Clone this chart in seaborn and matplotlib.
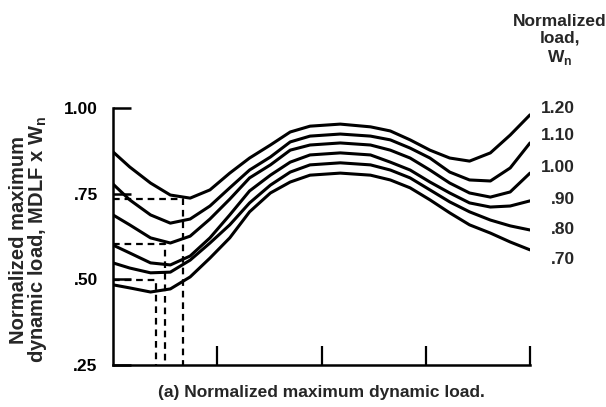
import numpy as np
import pandas as pd
import matplotlib
matplotlib.use("Agg")
import matplotlib.pyplot as plt
import seaborn as sns

sns.set_theme(style="white")
plt.rcParams['font.family'] = ['Liberation Sans', 'DejaVu Sans']
plt.rcParams['mathtext.fontset'] = 'custom'
plt.rcParams['mathtext.rm'] = 'Liberation Sans:bold'
plt.rcParams['font.weight'] = 'bold'

# ---- data ----
x_pos = [0.00, 0.16, 0.36, 0.55, 0.74, 0.93, 1.12, 1.31, 1.51, 1.70, 1.89,
         2.18, 2.47, 2.66, 2.85, 3.04, 3.23, 3.42, 3.62, 3.81, 4.00]

load_labels = ['1.20', '1.10', '1.00', '.90', '.80', '.70']

curve_120 = [0.872, 0.828, 0.781, 0.746, 0.737, 0.761, 0.810, 0.854, 0.892, 0.930, 0.947,
             0.953, 0.945, 0.933, 0.907, 0.877, 0.854, 0.845, 0.869, 0.921, 0.980]
curve_110 = [0.778, 0.732, 0.688, 0.664, 0.676, 0.714, 0.767, 0.819, 0.857, 0.901, 0.918,
             0.924, 0.918, 0.907, 0.883, 0.854, 0.813, 0.790, 0.787, 0.825, 0.898]
curve_100 = [0.688, 0.659, 0.621, 0.606, 0.626, 0.676, 0.734, 0.796, 0.834, 0.877, 0.892,
             0.898, 0.892, 0.877, 0.854, 0.819, 0.781, 0.752, 0.740, 0.755, 0.810]
curve_090 = [0.600, 0.577, 0.548, 0.542, 0.568, 0.621, 0.688, 0.758, 0.804, 0.842, 0.863,
             0.869, 0.863, 0.842, 0.819, 0.784, 0.752, 0.723, 0.711, 0.714, 0.729]
curve_080 = [0.548, 0.533, 0.519, 0.521, 0.556, 0.606, 0.659, 0.723, 0.775, 0.813, 0.834,
             0.840, 0.834, 0.819, 0.796, 0.761, 0.726, 0.697, 0.673, 0.656, 0.644]
curve_070 = [0.484, 0.475, 0.463, 0.472, 0.507, 0.562, 0.621, 0.697, 0.752, 0.784, 0.804,
             0.810, 0.804, 0.790, 0.767, 0.732, 0.694, 0.659, 0.635, 0.609, 0.586]

# dashed read-off lines
dash_y = [0.733, 0.603, 0.498]
dash_x = [0.67, 0.50, 0.41]

# right-side label positions (y in data units)
label_y = [1.000, 0.921, 0.825, 0.734, 0.644, 0.559]

y_ticks = [1.00, 0.75, 0.50, 0.25]
y_tick_labels = ['1.00', '.75', '.50', '.25']
x_ticks = [1, 2, 3, 4]

curves = [curve_120, curve_110, curve_100, curve_090, curve_080, curve_070]
df = pd.concat([pd.DataFrame({'x': x_pos, 'y': c, 'load': lab})
                for c, lab in zip(curves, load_labels)], ignore_index=True)

# ---- figure ----
fig = plt.figure(figsize=(6.06, 4.07), dpi=100)
ax = fig.add_axes([113/606, 1-365/407, (530-113)/606, (365-108)/407])

sns.lineplot(data=df, x='x', y='y', units='load', estimator=None, sort=False,
             color='black', lw=2.2, ax=ax, legend=False,
             solid_joinstyle='round', solid_capstyle='round')

for xx, yy in zip(dash_x, dash_y):
    ax.plot([0, xx, xx], [yy, yy, 0.25], color='black', lw=1.6,
            ls=(0, (3.0, 2.2)), solid_capstyle='butt')

ax.set_xlim(0, 4)
ax.set_ylim(0.25, 1.00)
ax.set_xticks(x_ticks)
ax.set_xticklabels([''] * len(x_ticks))
ax.set_yticks(y_ticks)
ax.set_yticklabels(y_tick_labels, fontsize=12.5, fontweight='bold')
ax.tick_params(axis='y', left=True, direction='in', length=13, width=1.8, pad=11,
               colors='black')
ax.tick_params(axis='x', bottom=True, direction='in', length=14, width=1.6,
               colors='black')
ax.set_xlabel('')
ax.set_ylabel('')

for s in ['top', 'right']:
    ax.spines[s].set_visible(False)
for s in ['left', 'bottom']:
    ax.spines[s].set_color('black')
    ax.spines[s].set_linewidth(1.8)

for lab, yy in zip(load_labels, label_y):
    ax.text(4.43, yy, lab, ha='right', va='center', fontsize=12.5, clip_on=False,
            fontweight='bold')

fig.text(560/606, 1-14/407, 'Normalized\nload,\nW$_\\mathregular{n}$', ha='center', va='top',
         fontsize=12.5, linespacing=1.15, fontweight='bold')

fig.text(29/606, 1-240/407, 'Normalized maximum\ndynamic load, MDLF x W$_\\mathregular{n}$',
         rotation=90, ha='center', va='center', fontsize=14.5, linespacing=0.92,
         multialignment='center', fontweight='bold')

fig.text(321/606, 1-392/407, '(a) Normalized maximum dynamic load.', ha='center',
         va='center', fontsize=12.5, fontweight='bold')

fig.savefig('out.png', dpi=100)
